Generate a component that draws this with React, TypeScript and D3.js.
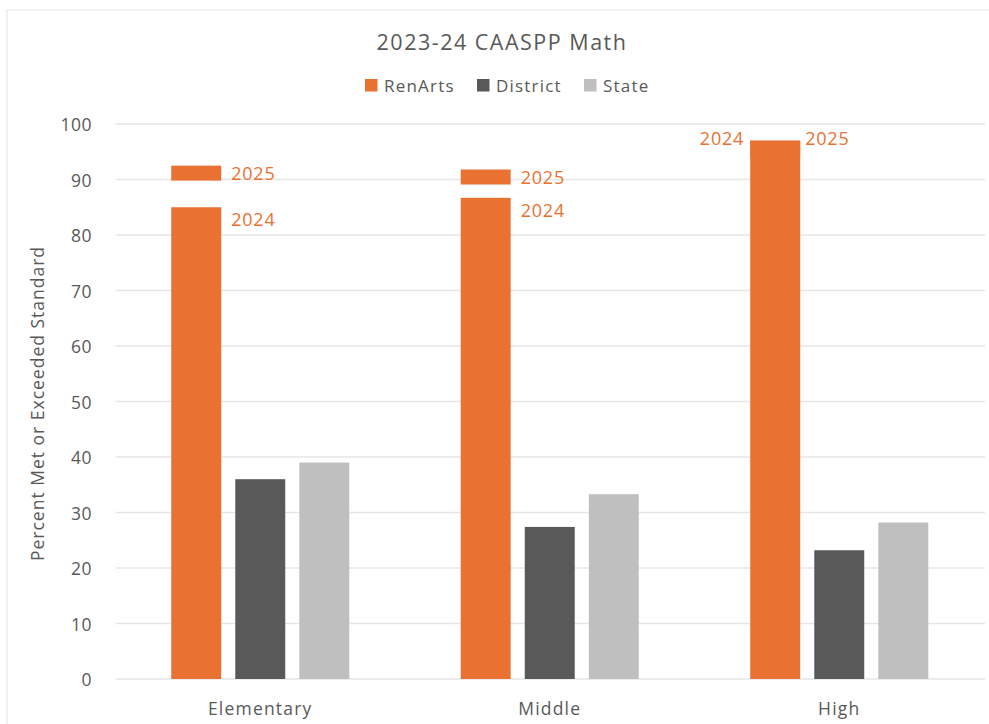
import React from 'react';
import * as d3 from 'd3';

const categories = ['Elementary', 'Middle', 'High'];
const series = ['RenArts', 'District', 'State'];
const renArts2024 = [85, 86.7, 97];
const renArts2025 = [92.5, 91.8, 97];
const district = [36, 27.4, 23.2];
const state = [39, 33.3, 28.2];
const yTicks = [0, 10, 20, 30, 40, 50, 60, 70, 80, 90, 100];

const colors = { RenArts: '#E97132', District: '#595959', State: '#BFBFBF' };
const textColor = '#595959';
const font = '"Open Sans", Roboto, sans-serif';

const width = 989;
const height = 724;
const markerDepth = 2.7;

export default function App() {
  const margin = { top: 124, right: 5, bottom: 45, left: 115.5 };

  const x0 = d3.scaleBand()
    .domain(categories)
    .range([margin.left, width - margin.right]);

  const x1 = d3.scaleBand()
    .domain(series)
    .range([0, x0.bandwidth()])
    .paddingInner(0.22)
    .paddingOuter(0.87);

  const y = d3.scaleLinear()
    .domain([0, 100])
    .range([height - margin.bottom, margin.top]);

  const values = { RenArts: renArts2024, District: district, State: state };

  const legendItems = [
    { name: 'RenArts', x: 365 },
    { name: 'District', x: 477 },
    { name: 'State', x: 584 },
  ];

  const labelStyle = { fontSize: 18, fill: colors.RenArts, letterSpacing: 0.8 };

  return (
    <svg
      width={width}
      height={height}
      style={{ position: 'absolute', left: 0, top: 0, background: '#fff' }}
      fontFamily={font}
    >
      <rect x={7} y={10} width={width} height={height} fill="#fff" stroke="#e3e3e3" />

      <text x={502} y={41} textAnchor="middle" dominantBaseline="central" fontSize={21.5} letterSpacing={1.5} fill={textColor}>
        2023-24 CAASPP Math
      </text>

      {legendItems.map((d) => (
        <g key={d.name} transform={`translate(${d.x},85)`}>
          <rect x={0} y={-6} width={12.5} height={12.5} fill={colors[d.name]} />
          <text x={19} y={0} dominantBaseline="central" fontSize={17} letterSpacing={1.2} fill={textColor}>{d.name}</text>
        </g>
      ))}

      {yTicks.map((t) => (
        <g key={t}>
          <line x1={margin.left} x2={width - 4} y1={y(t)} y2={y(t)} stroke="#e6e6e6" strokeWidth={1.5} />
          <text x={92} y={y(t)} textAnchor="end" dominantBaseline="central" fontSize={17.5} letterSpacing={0.5} fill={textColor}>{t}</text>
        </g>
      ))}

      <text
        transform={`translate(37,${y(50) + 2}) rotate(-90)`}
        textAnchor="middle"
        dominantBaseline="central"
        fontSize={17.5}
        letterSpacing={1}
        fill={textColor}
      >
        Percent Met or Exceeded Standard
      </text>

      {categories.map((c, i) => {
        const gx = x0(c);
        const bw = x1.bandwidth();
        const rx = gx + x1('RenArts');
        const v24 = renArts2024[i];
        const v25 = renArts2025[i];
        const same = v24 === v25;
        return (
          <g key={c}>
            {series.map((s) => (
              <rect
                key={s}
                x={gx + x1(s)}
                y={y(values[s][i])}
                width={bw}
                height={y(0) - y(values[s][i])}
                fill={colors[s]}
              />
            ))}
            <rect
              x={rx}
              y={y(v25)}
              width={bw}
              height={y(v25 - markerDepth) - y(v25)}
              fill={colors.RenArts}
            />
            {same ? (
              <>
                <text x={rx - 6} y={y(v24) - 3} textAnchor="end" dominantBaseline="central" {...labelStyle}>2024</text>
                <text x={rx + bw + 5} y={y(v25) - 3} dominantBaseline="central" {...labelStyle}>2025</text>
              </>
            ) : (
              <>
                <text x={rx + bw + 10} y={y(v24) + 12} dominantBaseline="central" {...labelStyle}>2024</text>
                <text x={rx + bw + 10} y={y(v25) + 7} dominantBaseline="central" {...labelStyle}>2025</text>
              </>
            )}
            <text
              x={gx + x0.bandwidth() / 2}
              y={708}
              textAnchor="middle"
              dominantBaseline="central"
              fontSize={17.5}
              letterSpacing={1.2}
              fill={textColor}
            >
              {c}
            </text>
          </g>
        );
      })}
    </svg>
  );
}
